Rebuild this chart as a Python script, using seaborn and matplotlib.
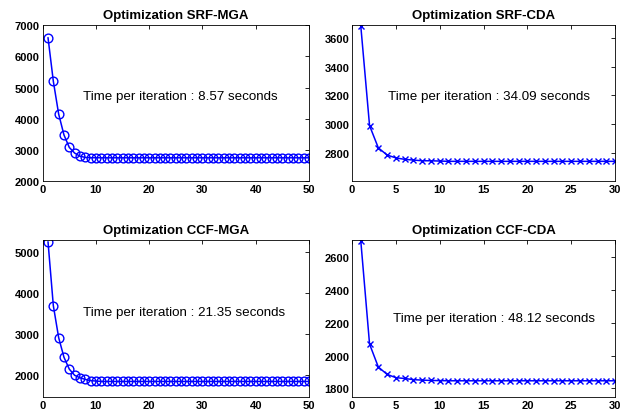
import numpy as np
import pandas as pd
import matplotlib
matplotlib.use("Agg")
import matplotlib.pyplot as plt
import seaborn as sns

# cost per iteration
srf_mga = [6600, 5200, 4150, 3480, 3080, 2900, 2800, 2760, 2750, 2750] + [2748] * 40
srf_cda = [3685, 2990, 2835, 2785, 2765, 2755, 2750, 2745, 2745, 2743] + [2741] * 20
ccf_mga = [5260, 3700, 2920, 2440, 2150, 2000, 1940, 1900, 1870, 1860] + [1850] * 40
ccf_cda = [2700, 2070, 1930, 1885, 1865, 1860, 1853, 1850, 1848, 1847] + [1846] * 20

titles = ["Optimization SRF-MGA", "Optimization SRF-CDA",
          "Optimization CCF-MGA", "Optimization CCF-CDA"]
times = ["8.57", "34.09", "21.35", "48.12"]

sns.set_style("white")
plt.rcParams['font.family'] = ['Liberation Sans', 'DejaVu Sans']
plt.rcParams['text.color'] = 'black'
plt.rcParams['xtick.color'] = 'black'
plt.rcParams['ytick.color'] = 'black'

fig = plt.figure(figsize=(6.37, 4.14), dpi=100)
positions = [[0.067, 0.560, 0.418, 0.377],
             [0.5526, 0.560, 0.413, 0.377],
             [0.067, 0.0386, 0.418, 0.380],
             [0.5526, 0.0386, 0.413, 0.380]]

series = [srf_mga, srf_cda, ccf_mga, ccf_cda]
markers = ['o', 'x', 'o', 'x']
xlims = [(0, 50), (0, 30), (0, 50), (0, 30)]
xticks = [np.arange(0, 51, 10), np.arange(0, 31, 5), np.arange(0, 51, 10), np.arange(0, 31, 5)]
ylims = [(2000, 7000), (2603, 3690), (1470, 5310), (1747, 2706)]
yticks = [np.arange(2000, 7001, 1000), np.arange(2800, 3601, 200),
          np.arange(2000, 5001, 1000), np.arange(1800, 2601, 200)]
text_pos = [(7.6, 4730), (4.1, 3194), (7.6, 3536), (4.64, 2231)]

for i in range(4):
    ax = fig.add_axes(positions[i])
    vals = series[i]
    df = pd.DataFrame({'iter': np.arange(1, len(vals) + 1), 'cost': vals})
    if markers[i] == 'o':
        sns.lineplot(data=df, x='iter', y='cost', ax=ax, color='#0000ff', lw=1.1,
                     marker='o', markersize=6.3, markerfacecolor='none',
                     markeredgecolor='#0000ff', markeredgewidth=1.0)
    else:
        sns.lineplot(data=df, x='iter', y='cost', ax=ax, color='#0000ff', lw=1.1,
                     marker='x', markersize=4, markeredgecolor='#0000ff',
                     markeredgewidth=1.0)
    ax.set_xlim(xlims[i])
    ax.set_ylim(ylims[i])
    ax.set_xticks(xticks[i])
    ax.set_yticks(yticks[i])
    ax.set_xlabel('')
    ax.set_ylabel('')
    ax.tick_params(direction='in', top=True, right=True, length=3, width=0.6,
                   labelsize=8, pad=2)
    for lab in ax.get_xticklabels() + ax.get_yticklabels():
        lab.set_fontweight('bold')
    for sp in ax.spines.values():
        sp.set_visible(True)
        sp.set_linewidth(0.6)
        sp.set_color('black')
    ax.set_title(titles[i], fontsize=9.5, fontweight='bold', pad=5)
    ax.text(text_pos[i][0], text_pos[i][1],
            "Time per iteration : " + times[i] + " seconds",
            fontsize=9.6, va='center', ha='left')

fig.savefig("out.png", dpi=100)
